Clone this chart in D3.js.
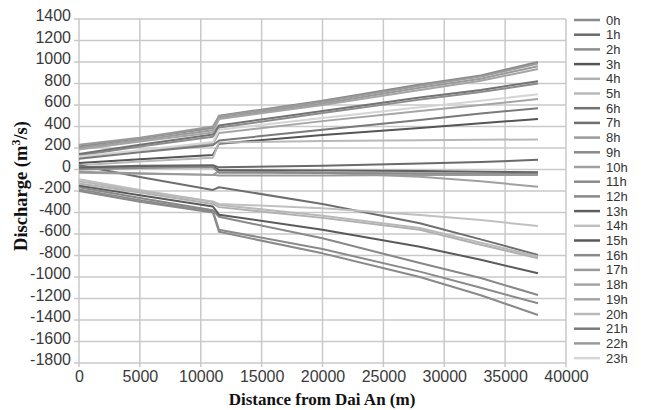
<!DOCTYPE html>
<html><head><meta charset="utf-8">
<script src="https://cdn.jsdelivr.net/npm/d3@7/dist/d3.min.js"></script>
<style>body{margin:0;background:#fff}svg{display:block}</style>
</head><body><svg id="c" width="649" height="410"></svg>
<script>
// ---- data ----
const distances = [0, 5000, 11000, 11500, 20000, 28000, 33000, 37700];
const hourLabels = ["0h","1h","2h","3h","4h","5h","6h","7h","8h","9h","10h","11h","12h","13h","14h","15h","16h","17h","18h","19h","20h","21h","22h","23h"];
const xTickValues = [0,5000,10000,15000,20000,25000,30000,35000,40000];
const yTickValues = [1400,1200,1000,800,600,400,200,0,-200,-400,-600,-800,-1000,-1200,-1400,-1600,-1800];

const q0h  = [215, 290, 385, 500, 640, 790, 875, 1000];
const q1h  = [20, 35, 40, 20, 35, 55, 70, 90];
const q2h  = [130, 215, 305, 390, 525, 650, 720, 800];
const q3h  = [60, 95, 135, 240, 320, 386, 430, 470];
const q4h  = [-130, -215, -320, -350, -450, -560, -700, -825];
const q5h  = [40, 75, 110, 250, 265, 272, 276, 280];
const q6h  = [145, 230, 325, 410, 545, 670, 740, 820];
const q7h  = [40, -70, -190, -165, -320, -500, -650, -795];
const q8h  = [200, 275, 365, 480, 615, 760, 845, 960];
const q9h  = [-200, -300, -400, -580, -780, -1000, -1170, -1353];
const q10h = [-30, -40, -50, -15, -30, -67, -110, -160];
const q11h = [-185, -285, -390, -560, -740, -950, -1100, -1245];
const q12h = [-165, -265, -380, -440, -640, -870, -1010, -1167];
const q13h = [10, 25, 30, -5, -10, -15, -20, -25];
const q14h = [-90, -190, -300, -320, -360, -423, -470, -526];
const q15h = [-150, -240, -345, -420, -560, -718, -840, -966];
const q16h = [0, 15, 20, -30, -33, -36, -38, -40];
const q17h = [230, 295, 400, 495, 630, 780, 865, 985];
const q18h = [110, 170, 240, 340, 450, 545, 600, 655];
const q19h = [185, 260, 345, 470, 600, 740, 825, 935];
const q20h = [-110, -200, -300, -330, -430, -545, -680, -810];
const q21h = [100, 160, 225, 270, 370, 460, 520, 570];
const q22h = [-20, -35, -50, -55, -55, -52, -50, -50];
const q23h = [120, 180, 255, 370, 480, 580, 640, 700];

const seriesValues = [q0h,q1h,q2h,q3h,q4h,q5h,q6h,q7h,q8h,q9h,q10h,q11h,q12h,q13h,q14h,q15h,q16h,q17h,q18h,q19h,q20h,q21h,q22h,q23h];

// ---- style ----
const grays = ["#8a8a8a","#6a6a6a","#8c8c8c","#555555","#b0b0b0","#b8b8b8","#737373","#6e6e6e","#9a9a9a","#8a8a8a","#a0a0a0","#8a8a8a","#888888","#5f5f5f","#c0c0c0","#5a5a5a","#8a8a8a","#9a9a9a","#a5a5a5","#a5a5a5","#b8b8b8","#7a7a7a","#999999","#d5d5d5"];

const svg = d3.select("#c");
const x = d3.scaleLinear().domain([0, 40000]).range([79, 566]);
const y = d3.scaleLinear().domain([-1800, 1400]).range([363, 19]);
const plain = d => String(d);

// gridlines
const grid = svg.append("g");
grid.selectAll("line.h").data(yTickValues).join("line")
  .attr("x1", x(0) - 5).attr("x2", x(40000))
  .attr("y1", d => y(d)).attr("y2", d => y(d))
  .attr("stroke", "#c9c9c9").attr("stroke-width", 1.5);
grid.selectAll("line.v").data(xTickValues).join("line")
  .attr("x1", d => x(d)).attr("x2", d => x(d))
  .attr("y1", y(1400)).attr("y2", y(-1800) + 4)
  .attr("stroke", "#c9c9c9").attr("stroke-width", 1.5);

// axes (labels only)
const yAxis = svg.append("g").attr("transform", `translate(${x(0)},0)`)
  .call(d3.axisLeft(y).tickValues(yTickValues).tickFormat(plain).tickSize(0).tickPadding(8));
yAxis.select(".domain").remove();
yAxis.selectAll("text").attr("font-family", "Liberation Sans, Arial, sans-serif")
  .attr("font-size", 16).attr("fill", "#3a3a3a").attr("dy", "0.1em");

const xAxis = svg.append("g").attr("transform", `translate(0,${y(-1800)})`)
  .call(d3.axisBottom(x).tickValues(xTickValues).tickFormat(plain).tickSize(0).tickPadding(8));
xAxis.select(".domain").remove();
xAxis.selectAll("text").attr("font-family", "Liberation Sans, Arial, sans-serif")
  .attr("font-size", 16).attr("fill", "#3a3a3a");

// lines
const line = d3.line().x((d, i) => x(distances[i])).y(d => y(d));
svg.append("g").selectAll("path").data(seriesValues).join("path")
  .attr("d", d => line(d))
  .attr("fill", "none")
  .attr("stroke", (d, i) => grays[i])
  .attr("stroke-width", 2)
  .attr("stroke-linejoin", "round");

// axis titles
svg.append("text").attr("x", 322).attr("y", 405).attr("text-anchor", "middle")
  .attr("font-family", "Liberation Serif, Times New Roman, serif").attr("font-weight", "bold")
  .attr("font-size", 17).attr("fill", "#111").text("Distance from Dai An (m)");

const yt = svg.append("text").attr("transform", "translate(27,186) rotate(-90)")
  .attr("text-anchor", "middle")
  .attr("font-family", "Liberation Serif, Times New Roman, serif").attr("font-weight", "bold")
  .attr("font-size", 18.5).attr("fill", "#111");
yt.append("tspan").text("Discharge (m");
yt.append("tspan").attr("baseline-shift", "super").attr("font-size", 12).text("3");
yt.append("tspan").text("/s)");

// legend
const lg = svg.append("g");
const rowY = i => 20 + i * 14.7;
lg.selectAll("line").data(hourLabels).join("line")
  .attr("x1", 574).attr("x2", 600)
  .attr("y1", (d, i) => rowY(i)).attr("y2", (d, i) => rowY(i))
  .attr("stroke", (d, i) => grays[i]).attr("stroke-width", 2.5);
lg.selectAll("text").data(hourLabels).join("text")
  .attr("x", 606).attr("y", (d, i) => rowY(i)).attr("dy", "0.35em")
  .attr("font-family", "Liberation Sans, Arial, sans-serif").attr("font-size", 13)
  .attr("fill", "#333").text(d => d);
</script></body></html>
